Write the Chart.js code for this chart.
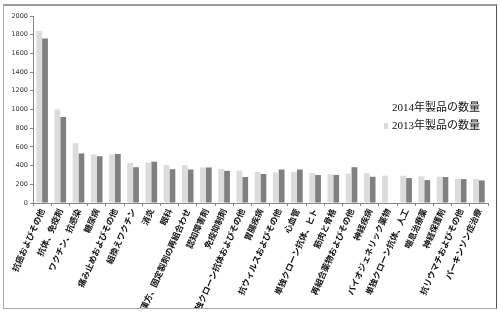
<!DOCTYPE html>
<html>
<head>
<meta charset="utf-8">
<script src="https://cdn.jsdelivr.net/npm/chart.js@4/dist/chart.umd.min.js"></script>
<style>
  body { margin: 0; background: #fff; }
  #wrap { position: relative; width: 500px; height: 314px; }
  #frame {
    position: absolute; left: 3px; top: 4px; width: 492px; height: 302px;
    border: 1px solid #aaa; border-top: 2px solid #999; border-right: 1px solid #555;
    pointer-events: none;
  }
  #legend {
    position: absolute; left: 384px; top: 98px;
    font-family: "Liberation Serif", "Noto Sans CJK JP", serif; font-size: 11px; color: #111;
    line-height: 18px;
  }
  #legend span.box { display: inline-block; width: 4px; height: 6px; margin-right: 4px; }
</style>
</head>
<body>
<div id="wrap">
  <canvas id="chart" width="500" height="314"></canvas>
  <div id="frame"></div>
  <div id="legend">
    <div><span class="box"></span>2014年製品の数量</div>
    <div><span class="box" style="background:#dcdcdc"></span>2013年製品の数量</div>
  </div>
</div>
<script>
const categories = [
  '抗癌およびその他', '抗体、免疫剤', 'ワクチン、抗感染', '糖尿病', '痛み止めおよびその他',
  '組換えワクチン', '消炎', '眼科', '漢方、固定製剤の再組合わせ', '認知障害剤',
  '免疫抑制剤', '単独クローン抗体およびその他', '胃腸疾病', '抗ウィルスおよびその他', '心血管',
  '単独クローン抗体、ヒト', '筋肉と骨格', '再組合薬物およびその他', '神経疾病', 'バイオジェネリック薬物',
  '単独クローン抗体、人工', '喘息治療薬', '神経保護剤', '抗リウマチおよびその他', 'パーキンソン症治療'
];
const values2013 = [1840, 1000, 640, 520, 520, 430, 430, 405, 405, 380, 365, 347, 332, 328, 332, 321, 307, 314, 318, 292, 292, 285, 281, 259, 259];
const values2014 = [1760, 920, 530, 500, 525, 383, 442, 361, 358, 380, 344, 278, 311, 358, 358, 300, 300, 383, 281, 0, 267, 245, 278, 256, 241];
const yTicks = [0, 200, 400, 600, 800, 1000, 1200, 1400, 1600, 1800, 2000];

const ctx = document.getElementById('chart').getContext('2d');
new Chart(ctx, {
  type: 'bar',
  data: {
    labels: categories,
    datasets: [
      { label: '2013年製品の数量', data: values2013, backgroundColor: '#dcdcdc', barPercentage: 1.0, categoryPercentage: 0.64 },
      { label: '2014年製品の数量', data: values2014, backgroundColor: '#808080', barPercentage: 1.0, categoryPercentage: 0.64 }
    ]
  },
  options: {
    responsive: false,
    animation: false,
    layout: { padding: { left: 3, top: 16, right: 12, bottom: 6 } },
    plugins: { legend: { display: false }, tooltip: { enabled: false } },
    scales: {
      x: {
        afterFit: function(scale) { scale.height = 105; },
        grid: { drawOnChartArea: false, drawTicks: true, tickLength: 3, color: '#888' },
        border: { color: '#888' },
        ticks: {
          autoSkip: false, minRotation: 66, maxRotation: 66, padding: 1,
          color: '#111',
          font: { family: '"Noto Sans CJK JP", sans-serif', size: 8.5, weight: 'bold' }
        }
      },
      y: {
        min: 0, max: 2000,
        afterFit: function(scale) { scale.width = 30; },
        afterBuildTicks: function(scale) { scale.ticks = yTicks.map(v => ({ value: v })); },
        grid: { drawOnChartArea: false, drawTicks: true, tickLength: 3, color: '#888' },
        border: { color: '#888' },
        ticks: {
          padding: 2, color: '#333',
          callback: function(value) { return String(value); },
          font: { family: '"DejaVu Sans", sans-serif', size: 6.5 }
        }
      }
    }
  }
});
</script>
</body>
</html>
